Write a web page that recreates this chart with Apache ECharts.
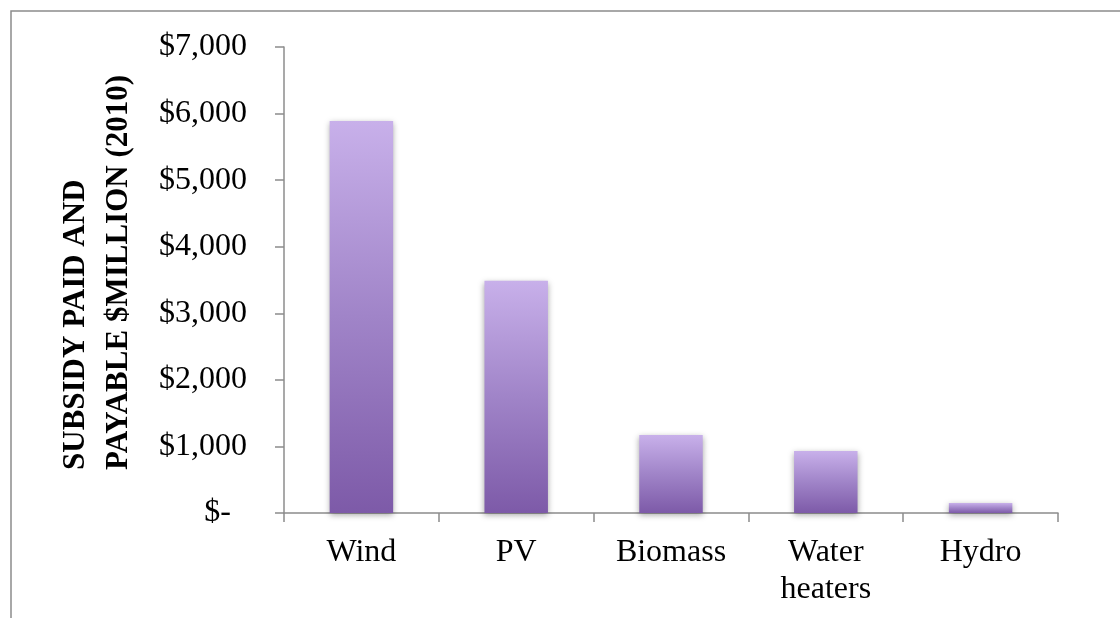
<!DOCTYPE html>
<html><head><meta charset="utf-8">
<script src="https://cdn.jsdelivr.net/npm/echarts@6/dist/echarts.min.js"></script>
<style>html,body{margin:0;padding:0;background:#fff}#c{width:1120px;height:618px}</style>
</head><body><div id="c"></div>
<script>
const categories = ['Wind', 'PV', 'Biomass', 'Water\nheaters', 'Hydro'];
const values = [5890, 3490, 1170, 930, 150];
const tickLabels = ['$-  ', '$1,000', '$2,000', '$3,000', '$4,000', '$5,000', '$6,000', '$7,000'];
const axisTitle = 'SUBSIDY PAID AND\nPAYABLE $MILLION (2010)';

const chart = echarts.init(document.getElementById('c'), null, {renderer: 'canvas'});
chart.setOption({
  animation: false,
  backgroundColor: '#fff',
  graphic: [{
    type: 'rect', shape: {x: 11, y: 11, width: 1200, height: 700},
    style: {fill: 'none', stroke: '#8c8c8c', lineWidth: 1.5}, silent: true
  }, {
    type: 'text', x: 97, y: 470, rotation: Math.PI / 2, silent: true,
    style: {
      text: axisTitle, align: 'left', verticalAlign: 'middle',
      fontFamily: 'Liberation Serif', fontWeight: 'bold', fontSize: 31, lineHeight: 43, fill: '#000'
    }
  }],
  grid: {left: 284, right: 62, top: 47, bottom: 105},
  xAxis: {
    type: 'category', data: categories,
    axisLine: {lineStyle: {color: '#8c8c8c', width: 1.5}},
    axisTick: {show: true, length: 9, lineStyle: {color: '#8c8c8c', width: 1.5}},
    axisLabel: {fontFamily: 'Liberation Serif', fontSize: 32, color: '#000', margin: 21, lineHeight: 37}
  },
  yAxis: {
    type: 'value', min: 0, max: 7000, interval: 1000,
    splitLine: {show: false},
    axisLine: {show: true, lineStyle: {color: '#8c8c8c', width: 1.5}},
    axisTick: {show: true, length: 9, lineStyle: {color: '#8c8c8c', width: 1.5}},
    axisLabel: {
      fontFamily: 'Liberation Serif', fontSize: 32, color: '#000', margin: 37,
      formatter: v => tickLabels[Math.round(v / 1000)]
    }
  },
  series: [{
    type: 'bar', data: values, barWidth: '41%',
    itemStyle: {
      color: new echarts.graphic.LinearGradient(0, 0, 0, 1, [
        {offset: 0, color: '#c8b0ea'},
        {offset: 0.5, color: '#a084c8'},
        {offset: 1, color: '#7d5aa8'}
      ]),
      shadowColor: 'rgba(0,0,0,0.35)', shadowBlur: 6, shadowOffsetY: 2
    }
  }]
});
</script></body></html>
